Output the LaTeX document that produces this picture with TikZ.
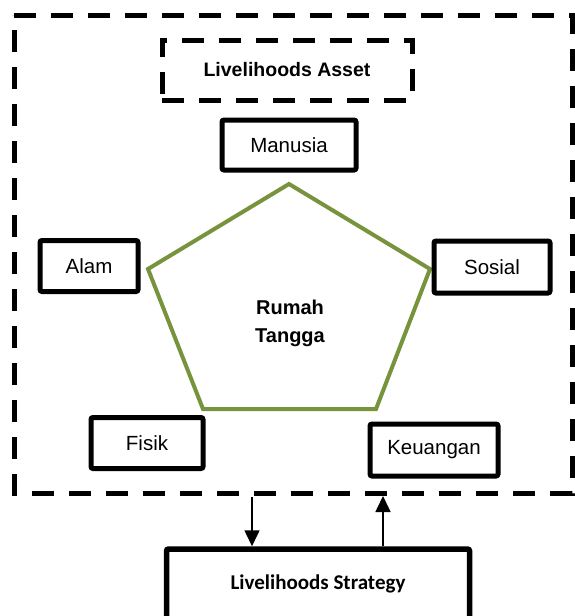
\documentclass[tikz,border=0pt]{standalone}
\usepackage{fontspec}
\setmainfont{Liberation Sans}
\newfontfamily\calib{Carlito}
\usetikzlibrary{arrows.meta}
\begin{document}
\begin{tikzpicture}[x=1pt,y=-1pt,
  asset/.style={draw=black,line width=5pt,rounded corners=2pt,fill=white,inner sep=0pt,
     font=\fontsize{20.5}{24}\selectfont},
  dashbox/.style={draw=black,line width=5pt,dash pattern=on 22pt off 15pt},
  arr/.style={draw=black,line width=1.6pt,-{Triangle[length=16pt,width=15pt]}}]
\useasboundingbox (0,0) rectangle (575,616);
% outer dashed frame
\draw[dashbox] (14,15) -- (572,15) -- (572,493) -- (14,493) -- cycle;
% title
\node[dashbox,minimum width=250pt,minimum height=60pt,inner sep=0pt,
  font=\bfseries\fontsize{19.5}{22}\selectfont] (title) at (287,70) {Livelihoods Asset};
% pentagon
\coordinate (p1) at (289,184);
\coordinate (p2) at (430,269);
\coordinate (p3) at (376,409);
\coordinate (p4) at (203,409);
\coordinate (p5) at (148,269);
\draw[line width=4pt,draw={rgb,255:red,119;green,147;blue,60},line join=miter] (p1) -- (p2) -- (p3) -- (p4) -- (p5) -- cycle;
\node[align=center,font=\bfseries\fontsize{20}{28}\selectfont] (rt) at (290,323) {Rumah\\Tangga};
% asset boxes
\node[asset,minimum width=134pt,minimum height=50pt] (manusia) at (289,145) {Manusia};
\node[asset,minimum width=98pt,minimum height=51pt] (alam) at (89,266) {Alam};
\node[asset,minimum width=116pt,minimum height=52pt] (sosial) at (492,267) {Sosial};
\node[asset,minimum width=112pt,minimum height=51pt] (fisik) at (147,443) {Fisik};
\node[asset,minimum width=128pt,minimum height=52pt] (keuangan) at (434,450) {Keuangan};
% strategy
\node[draw=black,line width=5.5pt,rounded corners=2pt,minimum width=303pt,minimum height=70pt,inner sep=0pt,
  font=\calib\bfseries\fontsize{21}{24}\selectfont] (strat) at (318,584) {Livelihoods Strategy};
\coordinate (d1) at (252,497);
\coordinate (u1) at (383,496);
\draw[arr] (d1) -- (d1 |- strat.north);
\draw[arr] (u1 |- strat.north) -- (u1);
\end{tikzpicture}
\end{document}
